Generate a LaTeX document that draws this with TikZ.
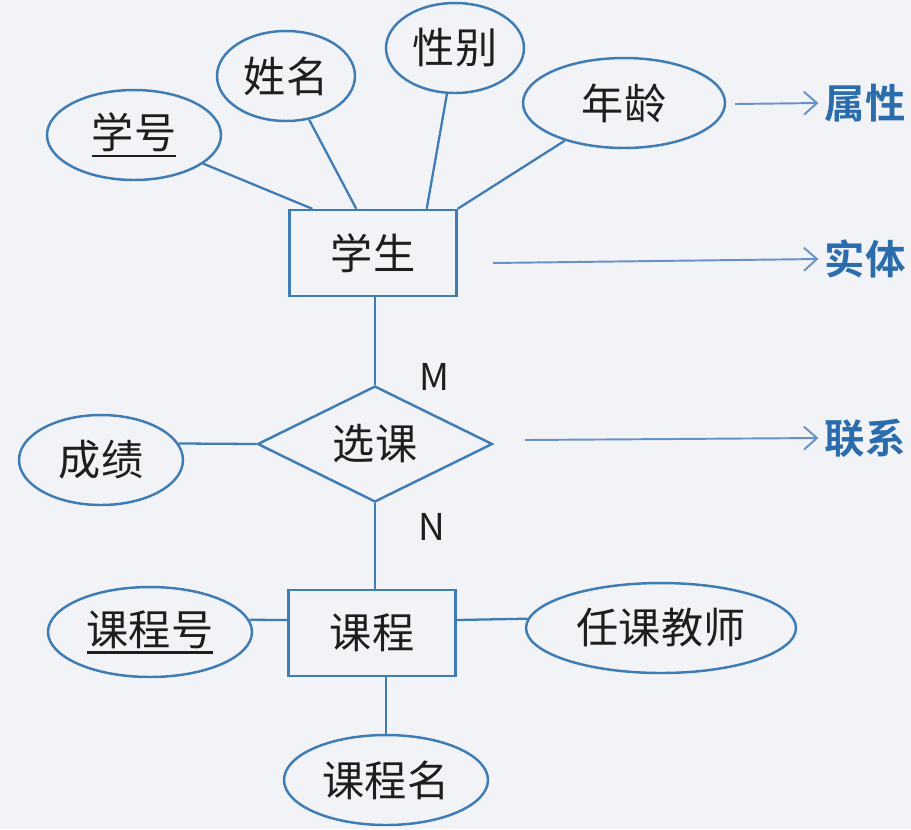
\documentclass[tikz,border=0pt]{standalone}
\usepackage{fontspec}
\setmainfont{Noto Sans CJK SC}[BoldFont={Noto Sans CJK SC Bold}]
\usetikzlibrary{shapes.geometric,arrows.meta}
\definecolor{erline}{RGB}{64,124,180}
\definecolor{tagline}{RGB}{104,146,198}
\definecolor{tagtext}{RGB}{42,108,172}
\definecolor{bg}{RGB}{242,243,246}
\definecolor{ink}{RGB}{30,30,30}
\newcommand\keyattr[1]{\setbox0\hbox{#1}\rlap{\rule[-0.2em]{\wd0}{1.3pt}}\box0}
\tikzset{
  attr/.style={ellipse,draw=erline,line width=1.4pt,inner sep=0pt,minimum height=1.8cm,
    text=ink,font=\fontsize{24}{28}\selectfont},
  entity/.style={rectangle,draw=erline,line width=1.4pt,minimum width=3.34cm,minimum height=1.72cm,
    text=ink,font=\fontsize{24}{28}\selectfont},
  rel/.style={diamond,aspect=2,draw=erline,line width=1.4pt,inner sep=0pt,minimum width=4.7cm,
    minimum height=2.32cm,text=ink,font=\fontsize{24}{28}\selectfont},
  card/.style={text=ink,font=\fontsize{21}{25}\selectfont},
  tag/.style={text=tagtext,font=\bfseries\fontsize{23}{27}\selectfont},
  link/.style={erline,line width=1.3pt},
  pointer/.style={tagline,line width=1.1pt,-{Straight Barb[length=0.26cm,width=0.46cm]}}
}
\begin{document}
\begin{tikzpicture}[x=0.02cm,y=-0.02cm]
      \fill[bg] (0,0) rectangle (911,829);
      \useasboundingbox (0,0) rectangle (911,829);
      \draw
        (134,135) node[attr,minimum width=3.48cm] (xh){\keyattr{学号}}
        (286,76) node[attr,minimum width=2.76cm] (xm){姓名}
        (455,48) node[attr,minimum width=2.76cm] (xb){性别}
        (624,103) node[attr,minimum width=4.04cm] (nl){年龄}
        (373,253) node[entity] (xs){学生}
        (375,444) node[rel] (xk){选课}
        (101,460) node[attr,minimum width=3.28cm] (cj){成绩}
        (372,633) node[entity] (kc){课程}
        (150,632) node[attr,minimum width=4.08cm] (kh){\keyattr{课程号}}
        (661,628) node[attr,minimum width=5.4cm] (rk){任课教师}
        (386,780) node[attr,minimum width=4.08cm] (km){课程名}
        (434,377) node[card] (m){M}
        (432,527) node[card] (n){N}
        (865,103) node[tag] (sx){属性}
        (865,259) node[tag] (st){实体}
        (865,438) node[tag] (lx){联系};
      \coordinate (p1) at (735,104);
      \coordinate (p2) at (493,263);
      \coordinate (p3) at (525,440);
      \begin{scope}[link]
        \draw (xh) to ([xshift=0.48cm]xs.north west);
        \draw (xm) to ([xshift=1.36cm]xs.north west);
        \draw (xb) to ([xshift=-0.62cm]xs.north east);
        \draw (nl) to (xs.north east);
        \draw (xk.north) to (xk.north |- xs.south);
        \draw (cj.12) to (xk.west);
        \draw (xk.south) to (xk.south |- kc.north);
        \draw (kh.7) to ([yshift=0.26cm]kc.west);
        \draw ([yshift=0.26cm]kc.east) to (rk.176);
        \draw (km.north) to (km.north |- kc.south);
      \end{scope}
      \begin{scope}[pointer]
        \draw (p1) to (sx.west);
        \draw (p2) to (st.west);
        \draw (p3) to (lx.west);
      \end{scope}
    \end{tikzpicture}
\end{document}
